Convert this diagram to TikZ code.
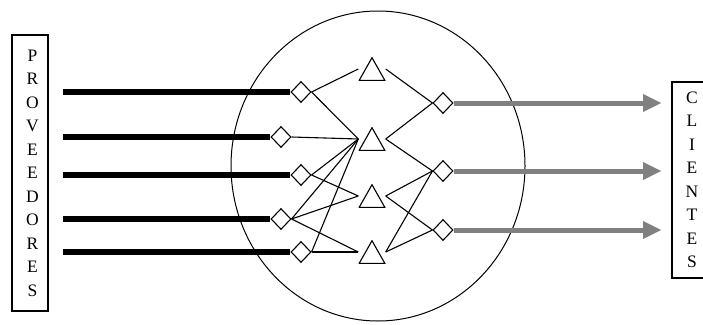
\documentclass[tikz,border=0pt]{standalone}
\usepackage{fontspec}
\setmainfont{Liberation Serif}
\usetikzlibrary{arrows.meta, shapes.geometric}

\begin{document}
\begin{tikzpicture}[
		x=1pt, y=-1pt,
		caja/.style={rectangle, draw, line width=1.2pt, inner sep=0pt, align=center,
			font=\fontsize{17.5}{23.5}\selectfont},
		rombo/.style={diamond, draw, line width=1.1pt, minimum width=20pt,
			minimum height=21pt, inner sep=0pt},
		nodo/.style={rectangle, minimum width=27pt, minimum height=24pt, inner sep=0pt,
			path picture={\draw[line width=1.1pt]
				([shift={(0.7pt,0.7pt)}]path picture bounding box.south west) --
				([shift={(-0.7pt,0.7pt)}]path picture bounding box.south east) --
				([shift={(0pt,-0.7pt)}]path picture bounding box.north) -- cycle;}},
		enlace/.style={line width=1.1pt},
		entrada/.style={line width=5.5pt},
		salida/.style={draw=gray, line width=5pt,
			-{Triangle[length=18pt, width=18pt, line width=0pt]}}
	]
		\useasboundingbox (0,0) rectangle (703,324);

		\node[draw, ellipse, line width=1pt, minimum width=294pt, minimum height=310pt,
			inner sep=0pt] (red) at (378,166) {};

		\node[caja, minimum width=36pt, minimum height=276pt] (prov) at (30,173)
			{\hspace*{5pt}P\\\hspace*{5pt}R\\\hspace*{5pt}O\\\hspace*{5pt}V\\\hspace*{5pt}E\\\hspace*{5pt}E\\\hspace*{5pt}D\\\hspace*{5pt}O\\\hspace*{5pt}R\\\hspace*{5pt}E\\\hspace*{5pt}S};
		\node[caja, minimum width=40pt, minimum height=196pt] (cli) at (692,180)
			{C\\L\\I\\E\\N\\T\\E\\S};

		\node[rombo] (a1) at (301,92) {};
		\node[rombo] (a2) at (281,137) {};
		\node[rombo] (a3) at (301,175) {};
		\node[rombo] (a4) at (281,219) {};
		\node[rombo] (a5) at (301,252) {};

		\node[nodo] (b1) at (372,69) {};
		\node[nodo] (b2) at (372,139) {};
		\node[nodo] (b3) at (372,196) {};
		\node[nodo] (b4) at (372,252) {};

		\node[rombo] (c1) at (443,103) {};
		\node[rombo] (c2) at (443,171) {};
		\node[rombo] (c3) at (443,230) {};

		\foreach \i/\y in {1/92, 2/137, 3/175, 4/219, 5/252} {
			\coordinate (e\i) at (63,\y);
			\draw[entrada] (e\i) -- (a\i);
		}
		\foreach \i/\y in {1/103, 2/171, 3/230} {
			\coordinate (s\i) at (661,\y);
			\draw[salida] (c\i) -- (s\i);
		}

		\foreach \a/\b in {a1/b1, a1/b2, a2/b2, a3/b2, a3/b3, a4/b2, a4/b3, a4/b4, a5/b2, a5/b4}
			\draw[enlace] (\a.east) -- (\b.west);
		\foreach \a/\b in {b1/c1, b2/c1, b2/c2, b3/c2, b3/c3, b4/c2, b4/c3}
			\draw[enlace] (\a.east) -- (\b.west);
	\end{tikzpicture}
\end{document}
